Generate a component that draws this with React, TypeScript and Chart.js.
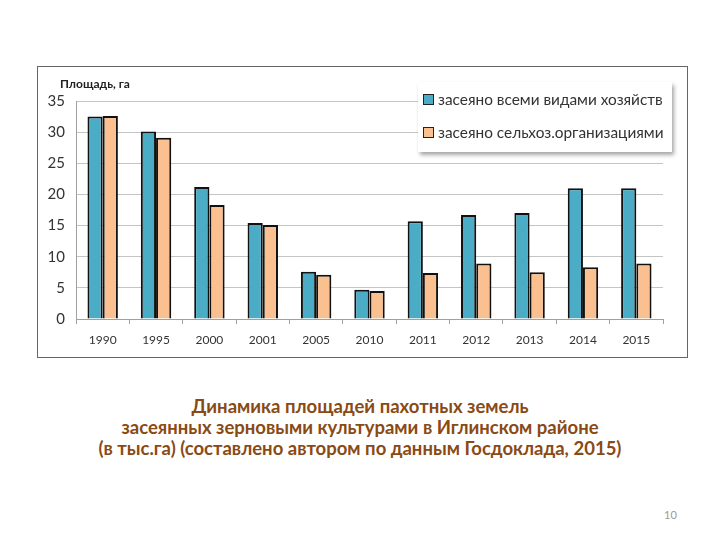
import React, { useEffect, useRef } from "react";
import { Chart, registerables } from "chart.js";

Chart.register(...registerables);

const years = ["1990", "1995", "2000", "2001", "2005", "2010", "2011", "2012", "2013", "2014", "2015"];
const allFarms = [32.5, 30.1, 21.2, 15.4, 7.6, 4.7, 15.7, 16.7, 17.0, 21.0, 21.0];
const agriOrgs = [32.6, 29.1, 18.3, 15.1, 7.1, 4.5, 7.4, 8.9, 7.5, 8.3, 8.9];
const seriesNames = ["засеяно всеми видами хозяйств", "засеяно сельхоз.организациями"];
const seriesColors = ["#4BACC6", "#FAC090"];
const yTicks = [0, 5, 10, 15, 20, 25, 30, 35];
const yTitle = "Площадь, га";
const captionLines = [
  "Динамика площадей пахотных земель",
  "засеянных зерновыми культурами в Иглинском районе",
  "(в тыс.га) (составлено автором по данным Госдоклада, 2015)",
];
const pageNumber = "10";

const FONT = "Lato, 'Open Sans', sans-serif";

export default function App() {
  const canvasRef = useRef<HTMLCanvasElement | null>(null);

  useEffect(() => {
    document.body.style.margin = "0";
    const ctx = canvasRef.current!;
    const chart = new Chart(ctx, {
      type: "bar",
      data: {
        labels: years,
        datasets: [
          {
            label: seriesNames[0],
            data: allFarms,
            backgroundColor: seriesColors[0],
            borderColor: "#111",
            borderWidth: 2,
          },
          {
            label: seriesNames[1],
            data: agriOrgs,
            backgroundColor: seriesColors[1],
            borderColor: "#111",
            borderWidth: 2,
          },
        ],
      },
      options: {
        animation: false,
        responsive: false,
        maintainAspectRatio: false,
        layout: { padding: { top: 34, right: 23, left: 0, bottom: 0 } },
        datasets: { bar: { categoryPercentage: 0.57, barPercentage: 1 } },
        plugins: { legend: { display: false }, tooltip: { enabled: false } },
        scales: {
          x: {
            grid: { display: true, drawOnChartArea: false, tickLength: 5, color: "#a0a0a0", offset: true },
            border: { color: "#a0a0a0" },
            ticks: { color: "#333", font: { family: FONT, size: 12 }, padding: 9 },
            afterFit: (s: any) => { s.height = 37; },
          },
          y: {
            min: 0,
            max: 35,
            afterBuildTicks: (s: any) => { s.ticks = yTicks.map((v) => ({ value: v })); },
            grid: { color: "#c4c4c4", drawTicks: false },
            border: { color: "#a0a0a0" },
            ticks: { color: "#333", font: { family: FONT, size: 15 }, padding: 11 },
            afterFit: (s: any) => { s.width = 38; },
          },
        },
      },
    });
    return () => chart.destroy();
  }, []);

  const swatch = (c: string) => ({
    display: "inline-block",
    width: 9,
    height: 9,
    background: c,
    border: "1px solid #222",
    marginRight: 4,
    verticalAlign: "middle",
  });

  return (
    <div style={{ position: "fixed", left: 0, top: 0, width: 720, height: 540, background: "#fff", fontFamily: FONT }}>
      <div
        style={{
          position: "absolute",
          left: 37,
          top: 66,
          width: 651,
          height: 292,
          border: "1.5px solid #666",
          boxSizing: "border-box",
        }}
      >
        <canvas ref={canvasRef} width={648} height={289} style={{ display: "block" }} />
        <div style={{ position: "absolute", left: 22, top: 9, fontSize: 12, fontWeight: 700, color: "#222" }}>{yTitle}</div>
        <div
          style={{
            position: "absolute",
            left: 380,
            top: 15,
            width: 254,
            height: 70,
            background: "#fff",
            boxShadow: "2px 3px 4px rgba(0,0,0,0.35)",
            fontSize: 15.4,
            color: "#333",
          }}
        >
          <div style={{ position: "absolute", left: 5, top: 6, whiteSpace: "nowrap" }}>
            <span style={swatch(seriesColors[0])} />
            <span style={{ verticalAlign: "middle" }}>{seriesNames[0]}</span>
          </div>
          <div style={{ position: "absolute", left: 5, top: 39, whiteSpace: "nowrap" }}>
            <span style={swatch(seriesColors[1])} />
            <span style={{ verticalAlign: "middle" }}>{seriesNames[1]}</span>
          </div>
        </div>
      </div>
      <div
        style={{
          position: "absolute",
          left: 0,
          top: 396,
          width: 720,
          textAlign: "center",
          fontSize: 18.5,
          fontWeight: 700,
          color: "#8A4A14",
          lineHeight: "21px",
        }}
      >
        {captionLines.map((l, i) => (
          <div key={i}>{l}</div>
        ))}
      </div>
      <div style={{ position: "absolute", left: 664, top: 508, fontSize: 11, color: "#999" }}>{pageNumber}</div>
    </div>
  );
}
